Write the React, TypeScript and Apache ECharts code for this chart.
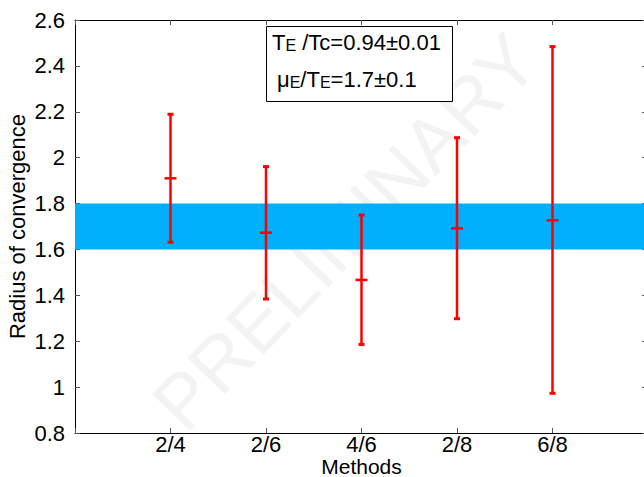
import React, { useEffect, useRef } from "react";
import * as echarts from "echarts";

const categories = ["2/4", "2/6", "4/6", "2/8", "6/8"];
const xPositions = [2, 3, 4, 5, 6];
const centers = [1.91, 1.673, 1.467, 1.692, 1.727];
const lows = [1.631, 1.384, 1.186, 1.298, 0.973];
const highs = [2.189, 1.961, 1.75, 2.087, 2.484];
const bandLow = 1.6;
const bandHigh = 1.8;
const yMin = 0.8;
const yMax = 2.6;
const yStep = 0.2;
const xMin = 1;
const xMax = 7;

const FONT = "Liberation Sans, Arial, Helvetica, sans-serif";

export default function App() {
  const ref = useRef<HTMLDivElement>(null);
  useEffect(() => {
    if (!ref.current) return;
    const chart = echarts.init(ref.current, undefined, { renderer: "svg" });
    const labelFor = (v: number) => {
      const i = xPositions.indexOf(Math.round(v));
      return i >= 0 ? categories[i] : "";
    };
    const errData = xPositions.map((x, i) => [x, lows[i], highs[i], centers[i]]);
    const tickStyle = { inside: true, length: 5, lineStyle: { color: "#555", width: 1 } };
    const subStyle = { fontSize: 16, fontFamily: FONT, fill: "#000", color: "#000", lineHeight: 0, verticalAlign: "bottom" };
    const mainStyle = { fontSize: 22, fontFamily: FONT, fill: "#000", color: "#000", lineHeight: 22 };
    const option: any = {
      animation: false,
      backgroundColor: "#ffffff",
      textStyle: { fontFamily: FONT },
      grid: { left: 75, top: 20, width: 573, height: 413, containLabel: false, outerBoundsMode: "none" },
      xAxis: [
        {
          type: "value",
          min: xMin,
          max: xMax,
          interval: 1,
          name: "Methods",
          nameLocation: "middle",
          nameGap: 23,
          nameMoveOverlap: false,
          nameTextStyle: { fontSize: 21, color: "#000", fontFamily: FONT },
          axisLine: { lineStyle: { color: "#000", width: 1 } },
          axisTick: tickStyle,
          axisLabel: {
            formatter: labelFor,
            fontSize: 22,
            color: "#000",
            margin: 0,
            fontFamily: FONT,
            showMinLabel: true,
            showMaxLabel: true,
          },
          splitLine: { show: false },
        },
        {
          type: "value",
          position: "top",
          min: xMin,
          max: xMax,
          interval: 1,
          axisLine: { lineStyle: { color: "#000", width: 1 } },
          axisTick: tickStyle,
          axisLabel: { show: false },
          splitLine: { show: false },
        },
      ],
      yAxis: [
        {
          type: "value",
          min: yMin,
          max: yMax,
          interval: yStep,
          name: "Radius of convergence",
          nameLocation: "middle",
          nameGap: 47,
          nameMoveOverlap: false,
          nameTextStyle: { fontSize: 22, color: "#000", fontFamily: FONT },
          axisLine: { show: true, lineStyle: { color: "#000", width: 1 } },
          axisTick: tickStyle,
          axisLabel: {
            fontSize: 22,
            color: "#000",
            margin: 10,
            fontFamily: FONT,
            padding: [0, 0, 6, 0],
            formatter: (v: number) => String(Math.round(v * 10) / 10),
          },
          splitLine: { show: false },
        },
        {
          type: "value",
          position: "right",
          min: yMin,
          max: yMax,
          interval: yStep,
          axisLine: { show: true, lineStyle: { color: "#000", width: 1 } },
          axisTick: { inside: true, length: 6, lineStyle: { color: "#555", width: 1 } },
          axisLabel: { show: false },
          splitLine: { show: false },
        },
      ],
      graphic: [
        {
          type: "text",
          z: -10,
          x: 345,
          y: 232,
          rotation: (46 * Math.PI) / 180,
          style: {
            text: "PRELIMINARY",
            fontSize: 76,
            fontFamily: FONT,
            fill: "#f3f3f3",
            align: "center",
            verticalAlign: "middle",
          },
        },
        {
          type: "rect",
          z: 100,
          shape: { x: 266.5, y: 26.5, width: 186, height: 75 },
          style: { fill: "#ffffff", stroke: "#000", lineWidth: 1 },
        },
        {
          type: "text",
          z: 101,
          x: 272,
          y: 42,
          style: {
            text: "{a|T}{s|E}{a| /Tc=0.94±0.01}",
            verticalAlign: "middle",
            rich: { a: mainStyle, s: subStyle },
          },
        },
        {
          type: "text",
          z: 101,
          x: 277,
          y: 79,
          style: {
            text: "{a|μ}{s|E}{a|/T}{s|E}{a|=1.7±0.1}",
            verticalAlign: "middle",
            rich: { a: mainStyle, s: subStyle },
          },
        },
      ],
      series: [
        {
          type: "line",
          data: [],
          z: 1,
          markArea: {
            silent: true,
            itemStyle: { color: "#00b0fc", opacity: 1 },
            data: [[{ yAxis: bandLow, xAxis: xMin }, { yAxis: bandHigh, xAxis: xMax }]],
          },
        },
        {
          type: "custom",
          z: 5,
          data: errData,
          renderItem: (params: any, api: any) => {
            const x = api.value(0);
            const lo = api.coord([x, api.value(1)]);
            const hi = api.coord([x, api.value(2)]);
            const c = api.coord([x, api.value(3)]);
            const red = "#ff0000";
            return {
              type: "group",
              children: [
                { type: "line", shape: { x1: lo[0], y1: lo[1], x2: hi[0], y2: hi[1] }, style: { stroke: red, lineWidth: 2.5 } },
                { type: "line", shape: { x1: hi[0] - 3, y1: hi[1], x2: hi[0] + 3, y2: hi[1] }, style: { stroke: red, lineWidth: 3 } },
                { type: "line", shape: { x1: lo[0] - 3, y1: lo[1], x2: lo[0] + 3, y2: lo[1] }, style: { stroke: red, lineWidth: 3 } },
                { type: "line", shape: { x1: c[0] - 6, y1: c[1], x2: c[0] + 6, y2: c[1] }, style: { stroke: red, lineWidth: 2.5 } },
              ],
            };
          },
        },
      ],
    };
    chart.setOption(option);
    return () => chart.dispose();
  }, []);
  return (
    <div
      style={{ position: "absolute", left: 0, top: 0, width: 644, height: 477, overflow: "hidden", background: "#fff" }}
    >
      <div ref={ref} style={{ width: 644, height: 477, overflow: "hidden" }} />
    </div>
  );
}
